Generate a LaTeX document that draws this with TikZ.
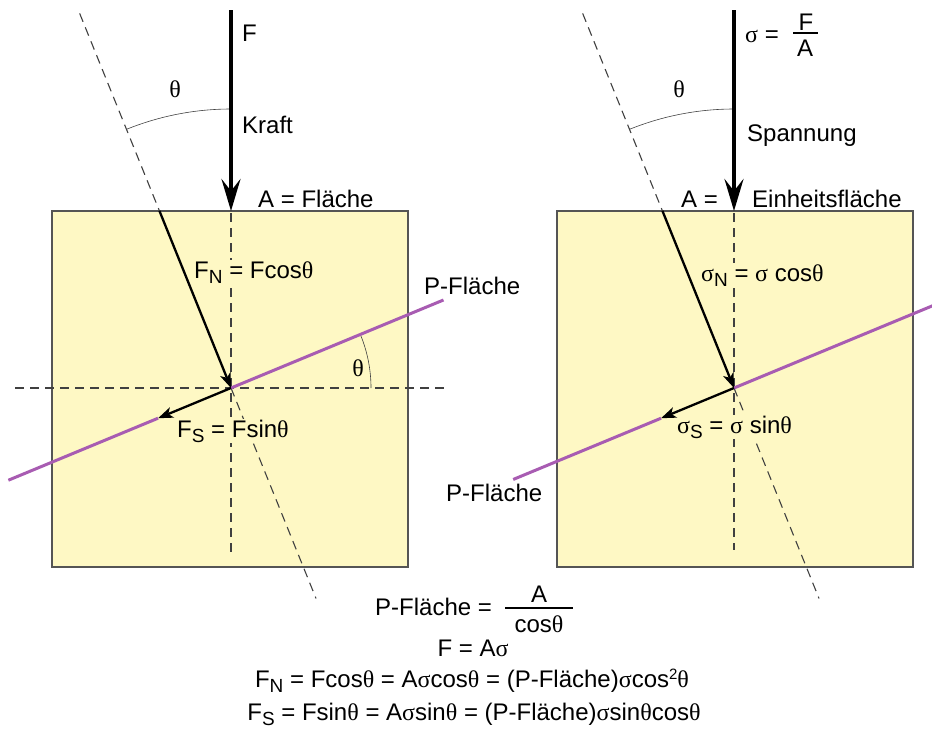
\documentclass[tikz,border=0pt]{standalone}
\usepackage{fontspec}
\setmainfont{Liberation Sans}
\newfontfamily\gkfont{Liberation Serif}
\usetikzlibrary{arrows.meta,calc}
\definecolor{boxyellow}{HTML}{FEF8C4}
\definecolor{boxedge}{HTML}{555555}
\definecolor{dashgray}{HTML}{404040}
\definecolor{planepurple}{HTML}{A85CB2}
\newcommand\mytheta{{\gkfont θ}}
\newcommand\mysigma{{\gkfont σ}}
\newcommand\lowsub[1]{\raisebox{-5pt}{\fontsize{19}{19}\selectfont #1}}
\newcommand\highsup[1]{\raisebox{8pt}{\fontsize{15}{15}\selectfont #1}}
\begin{document}
\begin{tikzpicture}[x=1pt,y=-1pt,
  lbl/.style={inner sep=0pt, anchor=base west, font=\fontsize{24}{28}\selectfont},
  inlbl/.style={lbl, fill=boxyellow, inner sep=1pt},
  block/.style={draw=boxedge, line width=1.3pt, fill=boxyellow, minimum width=356pt, minimum height=356pt, inner sep=0pt},
  guide/.style={draw=dashgray, line width=1.1pt, dash pattern=on 9pt off 6pt},
  anglearc/.style={draw=dashgray, line width=0.6pt},
  bigarrow/.style={line width=4pt, -{Stealth[length=32pt,width=19pt,inset=12pt]}},
  comparrow/.style={line width=2.3pt, -{Stealth[length=15pt,width=11pt,inset=4pt]}},
  plane/.style={draw=planepurple, line width=3pt},
  bar/.style={line width=1.2pt}
]
\useasboundingbox (0,0) rectangle (932,729);

% ---------------- left block ----------------
\node[block] (box1) at (230,389) {};
\coordinate (c1) at (231,388);
\coordinate (fl1) at ($(c1)+(-112:404)$);
\coordinate (ft1) at ($(c1)+(-112:191)$);
\coordinate (fb1) at ($(c1)+(68:227)$);
\coordinate (vt1) at (231,213);
\coordinate (vb1) at (231,553);
\coordinate (hl1) at (15,388);
\coordinate (hr1) at (445,388);
\coordinate (pl1) at ($(c1)+(157.5:241)$);
\coordinate (pg1) at ($(c1)+(157.5:79)$);
\coordinate (pr1) at ($(c1)+(-22.5:230)$);
\coordinate (at1) at (231,10);
\coordinate (ab1) at (231,211);

\draw[guide] (fl1) -- (ft1);
\draw[guide] (c1) -- (fb1);
\draw[guide] (vt1) -- (vb1);
\draw[guide] (hl1) -- (hr1);
\draw[anglearc] ($(c1)+(-90:279)$) arc[start angle=-90, end angle=-112, radius=279];
\draw[anglearc] ($(c1)+(0:140)$) arc[start angle=0, end angle=-22.5, radius=140];
\draw[plane] (pl1) -- (pg1);
\draw[plane] (c1) -- (pr1);

\node[lbl] (lF) at (242,41) {F};
\node[lbl, anchor=center] (lth1) at (175,89) {\mytheta};
\node[lbl] (lkraft) at (242,133) {Kraft};
\node[lbl] (larea) at (258,207) {A = Fläche};
\node[inlbl] (lfn) at (193,278) {F\lowsub{N} = Fcos\mytheta};
\node[lbl] (lpf) at (424,294) {P-Fläche};
\node[lbl, anchor=center] (lth2) at (358,368) {\mytheta};
\node[inlbl] (lfs) at (176,437) {F\lowsub{S} = Fsin\mytheta};

\draw[bigarrow] (at1) -- (ab1);
\draw[comparrow] (ft1) -- (c1);
\draw[comparrow] (c1) -- (pg1);

% ---------------- right block ----------------
\node[block] (box2) at (735,389) {};
\coordinate (c2) at (734,388);
\coordinate (fl2) at ($(c2)+(-112:404)$);
\coordinate (ft2) at ($(c2)+(-112:191)$);
\coordinate (fb2) at ($(c2)+(68:227)$);
\coordinate (vt2) at (734,213);
\coordinate (vb2) at (734,550);
\coordinate (pl2) at ($(c2)+(157.5:239)$);
\coordinate (pg2) at ($(c2)+(157.5:79)$);
\coordinate (pr2) at ($(c2)+(-22.5:215)$);
\coordinate (at2) at (734,10);
\coordinate (ab2) at (734,211);
\coordinate (sbl) at (793,33);
\coordinate (sbr) at (818,33);

\draw[guide] (fl2) -- (ft2);
\draw[guide] (c2) -- (fb2);
\draw[guide] (vt2) -- (vb2);
\draw[anglearc] ($(c2)+(-90:279)$) arc[start angle=-90, end angle=-112, radius=279];
\draw[plane] (pl2) -- (pg2);
\draw[plane] (c2) -- (pr2);

\node[lbl] (rsig) at (745,42) {\mysigma\ =};
\node[lbl, anchor=base] (rfF) at (806,30) {F};
\node[lbl, anchor=base] (rfA) at (805,56) {A};
\draw[bar] (sbl) -- (sbr);
\node[lbl, anchor=center] (rth1) at (679,89) {\mytheta};
\node[lbl] (rspan) at (747,141) {Spannung};
\node[lbl] (rarea) at (681,207) {A =};
\node[lbl] (reinh) at (752,207) {Einheitsfläche};
\node[inlbl] (rsn) at (700,281) {\mysigma\lowsub{N} = \mysigma\ cos\mytheta};
\node[inlbl] (rss) at (676,433) {\mysigma\lowsub{S} = \mysigma\ sin\mytheta};
\node[lbl] (rpf) at (446,501) {P-Fläche};

\draw[bigarrow] (at2) -- (ab2);
\draw[comparrow] (ft2) -- (c2);
\draw[comparrow] (c2) -- (pg2);

% ---------------- equations ----------------
\coordinate (ebl) at (505,608);
\coordinate (ebr) at (573,608);
\node[lbl] (eq1) at (375,615) {P-Fläche =};
\draw[bar] (ebl) -- (ebr);
\node[lbl, anchor=base] (eqA) at (539,602) {A};
\node[lbl, anchor=base] (eqcos) at (539,632) {cos\mytheta};
\node[lbl, anchor=base] (eq2) at (473,656) {F = A\mysigma};
\node[lbl, anchor=base] (eq3) at (472,687) {F\lowsub{N} = Fcos\mytheta{} = A\mysigma cos\mytheta{} = (P-Fläche)\mysigma cos\highsup{2}\mytheta};
\node[lbl, anchor=base] (eq4) at (474,720) {F\lowsub{S} = Fsin\mytheta{} = A\mysigma sin\mytheta{} = (P-Fläche)\mysigma sin\mytheta cos\mytheta};
\end{tikzpicture}
\end{document}
